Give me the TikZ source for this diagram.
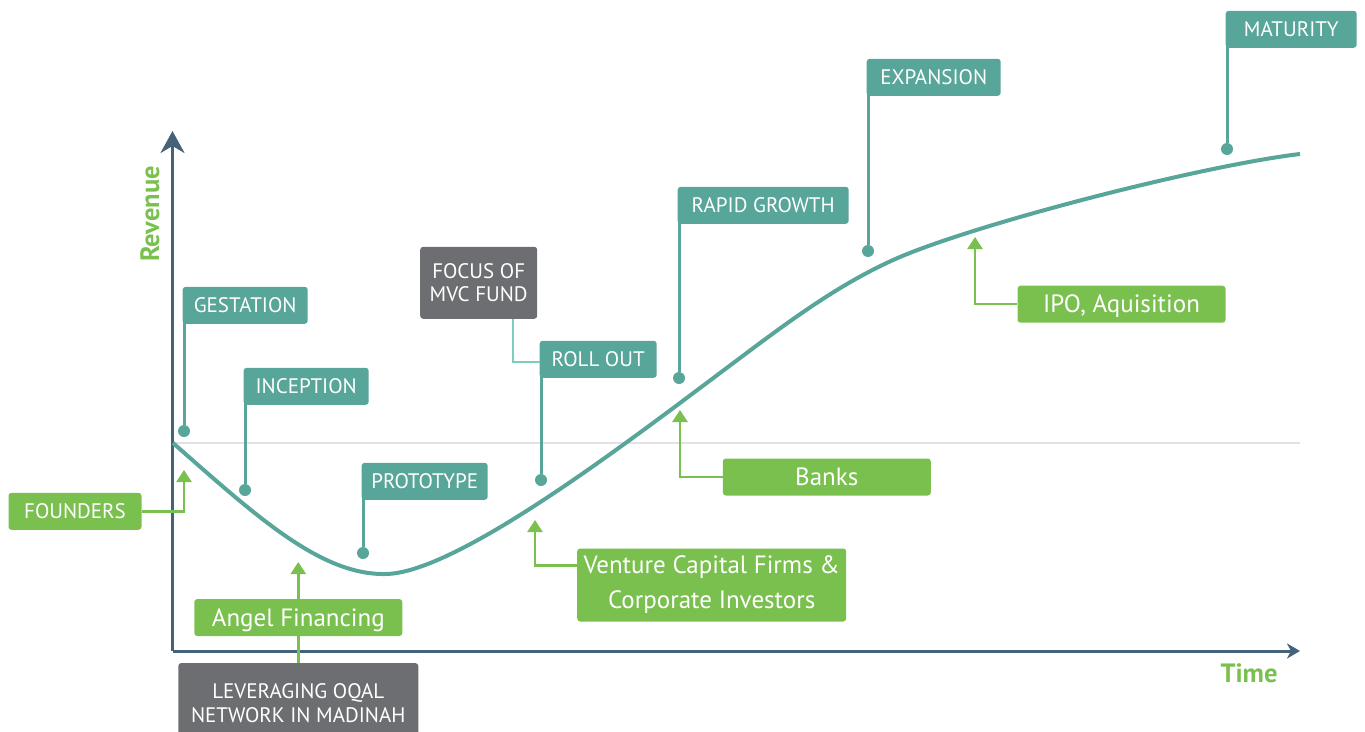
\documentclass[tikz,border=0pt]{standalone}
\usepackage{fontspec}
\setmainfont{PT Sans}
\usepackage{tikz}
\usetikzlibrary{arrows.meta}

\definecolor{flagteal}{HTML}{58A59A}
\definecolor{fundgreen}{HTML}{7AC04E}
\definecolor{notegray}{HTML}{6D6E71}
\definecolor{axisblue}{HTML}{44627A}
\definecolor{gridgray}{HTML}{E2E2E2}
\definecolor{linkteal}{HTML}{7FCBBF}

\tikzset{
  flag/.style={fill=flagteal, text=white, rounded corners=3pt, minimum height=37pt, inner sep=0pt,
    text height=14.5pt, text depth=0pt, font=\fontsize{21}{24}\selectfont},
  note/.style={fill=notegray, text=white, rounded corners=3pt, inner sep=0pt, align=center,
    font=\fontsize{21}{23.5}\selectfont},
  fundbox/.style={fill=fundgreen, text=white, rounded corners=3pt, inner sep=0pt, align=center,
    font=\fontsize{25}{35}\selectfont},
  fund/.style={fundbox, minimum height=37pt, text height=17.5pt, text depth=0pt},
  stagedot/.style={circle, fill=flagteal, minimum size=12pt, inner sep=0pt},
  stem/.style={flagteal, line width=3pt},
  fundarrow/.style={fundgreen, line width=2.5pt, -{Triangle[width=15pt,length=12pt]}},
  axis/.style={axisblue, line width=3pt},
  axislabel/.style={text=fundgreen, inner sep=0pt, font=\fontsize{26.5}{30}\selectfont\bfseries},
}

\begin{document}
\begin{tikzpicture}[x=1pt, y=-1pt]
\useasboundingbox (0,0) rectangle (1365,731);

% axes and reference line
\coordinate (origin) at (172.5,651);
\coordinate (ytop) at (172.5,131);
\coordinate (xend) at (1300,651);
\draw[gridgray, line width=2pt] (173,443) -- (1300,443);
\draw[axis, -{Stealth[width=24pt,length=22pt,inset=7pt]}] (origin) -- (ytop);
\draw[axis, -{Stealth[width=15pt,length=13pt,inset=4pt]}] (origin) -- (xend);
\node[axislabel, rotate=90] (revenue) at (150,214) {Revenue};
\node[axislabel] (time) at (1249,673) {Time};

% growth curve
\draw[flagteal, line width=4pt] (173,443) .. controls (255,515) and (320,575) .. (385,574)
  .. controls (450,574) and (600,463) .. (700,388)
  .. controls (770,336) and (830,287) .. (900,257)
  .. controls (980,223) and (1200,166) .. (1300,154);

% stages
\node[flag, minimum width=125pt, anchor=south west] (gestation) at (182.5,324) {GESTATION};
\node[stagedot] (gestationdot) at (184,431) {};
\draw[stem] ([yshift=4pt]gestationdot |- gestation.south) -- (gestationdot);

\node[flag, minimum width=125pt, anchor=south west] (inception) at (243.5,405) {INCEPTION};
\node[stagedot] (inceptiondot) at (245,490) {};
\draw[stem] ([yshift=4pt]inceptiondot |- inception.south) -- (inceptiondot);

\node[flag, minimum width=126pt, anchor=south west] (prototype) at (361.5,500) {PROTOTYPE};
\node[stagedot] (prototypedot) at (363,553) {};
\draw[stem] ([yshift=4pt]prototypedot |- prototype.south) -- (prototypedot);

\node[flag, minimum width=117pt, anchor=south west] (rollout) at (539.5,378) {ROLL OUT};
\node[stagedot] (rolloutdot) at (541,480) {};
\draw[stem] ([yshift=4pt]rolloutdot |- rollout.south) -- (rolloutdot);

\node[flag, minimum width=171pt, anchor=south west] (rapid) at (677.5,224) {RAPID GROWTH};
\node[stagedot] (rapiddot) at (679,378) {};
\draw[stem] ([yshift=4pt]rapiddot |- rapid.south) -- (rapiddot);

\node[flag, minimum width=134pt, anchor=south west] (expansion) at (866.5,96) {EXPANSION};
\node[stagedot] (expansiondot) at (868,251) {};
\draw[stem] ([yshift=4pt]expansiondot |- expansion.south) -- (expansiondot);

\node[flag, minimum width=131pt, anchor=south west] (maturity) at (1225.5,48) {MATURITY};
\node[stagedot] (maturitydot) at (1227,149) {};
\draw[stem] ([yshift=4pt]maturitydot |- maturity.south) -- (maturitydot);

% notes
\node[note, minimum width=117pt, minimum height=72pt] (focus) at (478.7,282.8) {FOCUS OF\\MVC FUND};
\draw[linkteal, line width=2pt] ([xshift=34.6pt]focus.south) |- ([yshift=-3pt]rollout.west);
\node[note, minimum width=240pt, minimum height=80pt] (leveraging) at (298.3,703) {LEVERAGING OQAL\\NETWORK IN MADINAH};

% funding sources
\coordinate (angeltip) at (298.3,562);
\draw[fundarrow] (leveraging.north) -- (angeltip);
\node[fund, minimum width=208pt] (angel) at (298.3,617.5) {Angel Financing};

\node[flag, fill=fundgreen, minimum width=133pt] (founders) at (75,511.3) {FOUNDERS};
\coordinate (founderstip) at (184,470);
\draw[fundarrow] (founders.east) -| (founderstip);

\node[fundbox, minimum width=269pt, minimum height=73pt] (venture) at (711.7,585) {Venture Capital Firms \&\\Corporate Investors};
\coordinate (venturetip) at (535,520);
\draw[fundarrow] ([yshift=19.5pt]venture.west) -| (venturetip);

\node[fund, minimum width=208pt] (banks) at (826.8,477) {Banks};
\coordinate (bankstip) at (680,410);
\draw[fundarrow] (banks.west) -| (bankstip);

\node[fund, minimum width=208pt] (ipo) at (1121.5,304.2) {IPO, Aquisition};
\coordinate (ipotip) at (975,237);
\draw[fundarrow] (ipo.west) -| (ipotip);
\end{tikzpicture}
\end{document}
